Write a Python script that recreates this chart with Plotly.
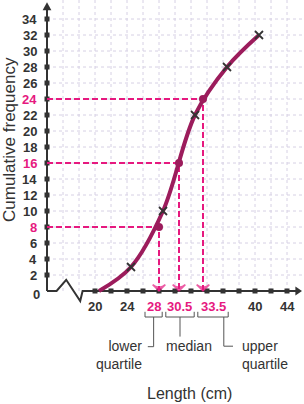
import plotly.graph_objects as go

# ---------------- data ----------------
cf_length = [20.5, 24.5, 28.5, 32.5, 36.5, 40.5]      # upper class boundaries (cm)
cf_freq = [0, 3, 10, 22, 28, 32]                       # cumulative frequency
quartile_cf = [8, 16, 24]                              # n/4, n/2, 3n/4
quartile_len = [28, 30.5, 33.5]                        # read-off values
quartile_names = ["lower<br>quartile", "median", "upper<br>quartile"]
x_tick_vals = [20, 24, 28, 30.5, 33.5, 40, 44]
x_tick_text = ["20", "24", "28", "30.5", "33.5", "40", "44"]
x_minor = [20, 22, 24, 26, 28, 30, 32, 34, 36, 38, 40, 42, 44]
y_tick_vals = [0, 2, 4, 6, 8, 10, 12, 14, 16, 18, 20, 22, 24, 26, 28, 30, 32, 34]
x_title = "Length (cm)"
y_title = "Cumulative frequency"

# ---------------- style ----------------
CURVE = "#9c1c5c"
PINK = "#e6197f"
DARK = "#333333"
GRID = "#d6d0e4"
BRK = "#555555"
FONT = "Arial, Liberation Sans, sans-serif"
AX_X = 14          # x value where the (broken) y-axis is drawn
X_END = 45.875
Y_END = 36.1

fig = go.Figure()

shapes = []
# grid
for y in y_tick_vals[1:]:
    shapes.append(dict(type="line", x0=AX_X, x1=46.2, y0=y, y1=y, layer="below",
                       line=dict(color=GRID, width=1, dash="3px,3px")))
for x in [16, 18] + x_minor:
    shapes.append(dict(type="line", x0=x, x1=x, y0=0, y1=36.4, layer="below",
                       line=dict(color=GRID, width=1, dash="3px,3px")))
# axes
shapes.append(dict(type="line", x0=AX_X, x1=AX_X, y0=0, y1=35.3, layer="below",
                   line=dict(color=DARK, width=2)))
shapes.append(dict(type="path", path="M13.45,35.1 L14.55,35.1 L14,%s Z" % Y_END,
                   fillcolor=DARK, line=dict(width=0), layer="below"))
shapes.append(dict(type="path",
                   path="M14,0 L15.2,0 L16.4,1.4 L18.15,-1.25 L18.45,0 L45.3,0",
                   line=dict(color=DARK, width=2), layer="below"))
shapes.append(dict(type="path", path="M45.05,-0.55 L45.05,0.55 L%s,0 Z" % X_END,
                   fillcolor=DARK, line=dict(width=0), layer="below"))

# brackets under the quartile labels
brackets = [(26.25, 28.4, 27.33, -6.96, 26.6),
            (28.85, 32.4, 30.625, -5.7, None),
            (32.85, 36.65, 36.1, -6.9, 37.25)]
for x0, x1, xs, yb, hook in brackets:
    shapes.append(dict(type="path",
                       path="M%s,-2.6 L%s,-3.25 L%s,-3.25 L%s,-2.6" % (x0, x0, x1, x1),
                       line=dict(color=BRK, width=1)))
    p = "M%s,-3.25 L%s,%s" % (xs, xs, yb)
    if hook is not None:
        p += " L%s,%s" % (hook, yb)
    shapes.append(dict(type="path", path=p, line=dict(color=BRK, width=1)))

# tick squares
fig.add_trace(go.Scatter(x=x_minor, y=[0] * len(x_minor), mode="markers",
                         marker=dict(symbol="square", size=5, color=DARK),
                         hoverinfo="skip"))
fig.add_trace(go.Scatter(x=[AX_X] * (len(y_tick_vals) - 1), y=y_tick_vals[1:], mode="markers",
                         marker=dict(symbol="square", size=5, color=DARK),
                         hoverinfo="skip"))

# pink read-off lines with arrowheads
for q, c in zip(quartile_len, quartile_cf):
    fig.add_trace(go.Scatter(x=[AX_X, q, q], y=[c, c, 0], mode="lines+markers",
                             line=dict(color=PINK, width=2, dash="6px,3px"),
                             marker=dict(symbol="arrow-wide", size=[0, 0, 9], color=PINK,
                                         angleref="previous", line=dict(color=PINK, width=1.5)),
                             hoverinfo="skip"))

# curve
fig.add_trace(go.Scatter(x=cf_length, y=cf_freq, mode="lines",
                         line=dict(color=CURVE, width=4, shape="spline", smoothing=1),
                         hoverinfo="skip"))
# plotted points
fig.add_trace(go.Scatter(x=cf_length[1:], y=cf_freq[1:], mode="markers",
                         marker=dict(symbol="x-thin", size=8, line=dict(color=DARK, width=1.8)),
                         hoverinfo="skip"))
# quartile dots
fig.add_trace(go.Scatter(x=quartile_len, y=quartile_cf, mode="markers",
                         marker=dict(size=8, color=CURVE), hoverinfo="skip"))

ann = []
x_shift = {28: -5, 33.5: 10}
for v, t in zip(x_tick_vals, x_tick_text):
    ann.append(dict(x=v, y=0, yshift=-15, xshift=x_shift.get(v, 0), text="<b>%s</b>" % t,
                    showarrow=False, xanchor="center", yanchor="middle",
                    font=dict(family=FONT, size=13, color=PINK if v in quartile_len else DARK)))
for v in y_tick_vals:
    ann.append(dict(x=AX_X, y=v, xshift=-5 if v == 0 else -8, yshift=-3 if v == 0 else 0,
                    text="<b>%d</b>" % v, showarrow=False, xanchor="right", yanchor="middle",
                    font=dict(family=FONT, size=13, color=PINK if v in quartile_cf else DARK)))

ann.append(dict(x=26.1, y=-7.94, text=quartile_names[0], showarrow=False, xanchor="right",
                yanchor="middle", align="right", font=dict(family=FONT, size=14, color=DARK)))
ann.append(dict(x=31.75, y=-6.84, text=quartile_names[1], showarrow=False, xanchor="center",
                yanchor="middle", font=dict(family=FONT, size=14, color=DARK)))
ann.append(dict(x=38.1, y=-7.94, text=quartile_names[2], showarrow=False, xanchor="left",
                yanchor="middle", align="left", font=dict(family=FONT, size=14, color=DARK)))
ann.append(dict(x=31.75, y=-12.75, text=x_title, showarrow=False, xanchor="center",
                yanchor="middle", font=dict(family=FONT, size=16, color=DARK)))
ann.append(dict(x=9 / 304, y=1 - 140 / 404, xref="paper", yref="paper", text=y_title,
                textangle=-90, showarrow=False, xanchor="center", yanchor="middle",
                font=dict(family=FONT, size=17, color=DARK)))

fig.update_layout(
    width=304, height=404, margin=dict(l=0, r=0, t=0, b=0),
    paper_bgcolor="white", plot_bgcolor="white", showlegend=False,
    xaxis=dict(visible=False, range=[8.125, 46.125], fixedrange=True),
    yaxis=dict(visible=False, range=[-14.125, 36.375], fixedrange=True),
    shapes=shapes, annotations=ann, hovermode=False,
)
fig.write_html("out.html")
